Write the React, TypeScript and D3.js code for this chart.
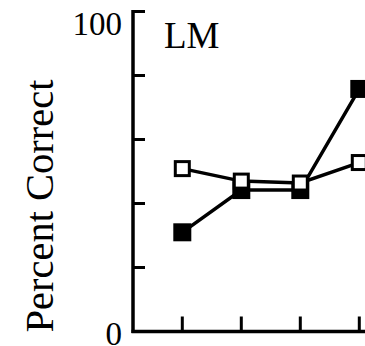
import React from "react";
import * as d3 from "d3";

const categories = ["1", "2", "3", "4"];
const openValues = [50.9, 47.0, 46.4, 52.8];
const filledValues = [31.0, 44.2, 44.2, 75.8];
const yTicks = [0, 20, 40, 60, 80, 100];
const yTickLabels = ["0", "100"];
const panelLabel = "LM";
const yAxisTitle = "Percent Correct";

export default function App() {
  const W = 365;
  const H = 346;
  const axisX = 133;
  const x = d3
    .scalePoint<string>()
    .domain(categories)
    .range([182.3, 359.3]);
  const y = d3.scaleLinear().domain([0, 100]).range([331.5, 11.5]);
  const line = d3
    .line<number>()
    .x((_, i) => x(categories[i]) as number)
    .y((d) => y(d));

  const font = "'Liberation Serif', 'Times New Roman', serif";

  return (
    <svg
      width={W}
      height={H}
      style={{ position: "absolute", left: 0, top: 0, background: "#fff" }}
    >
      {/* y axis */}
      <line x1={axisX} x2={axisX} y1={y(100) - 1.5} y2={y(0) + 1.5} stroke="#000" strokeWidth={3.5} />
      {yTicks.map((t) => (
        <line key={t} x1={axisX} x2={axisX + 12} y1={y(t)} y2={y(t)} stroke="#000" strokeWidth={3} />
      ))}
      {/* x axis */}
      <line x1={axisX - 1.5} x2={W + 5} y1={y(0)} y2={y(0)} stroke="#000" strokeWidth={3.5} />
      {categories.map((c) => (
        <line key={c} x1={x(c)} x2={x(c)} y1={y(0)} y2={y(0) - 15} stroke="#000" strokeWidth={3} />
      ))}
      {/* tick labels */}
      {yTickLabels.map((l) => {
        const v = +l;
        const base = v === 100 ? y(v) + 23.5 : y(v) + 13.5;
        return (
          <text key={l} x={122} y={base} textAnchor="end" fontFamily={font} fontSize={33} fill="#000">
            {l}
          </text>
        );
      })}
      <text
        transform={`translate(53,${206}) rotate(-90)`}
        textAnchor="middle"
        fontFamily={font}
        fontSize={40.5}
        fill="#000"
      >
        {yAxisTitle}
      </text>
      <text x={164} y={48} fontFamily={font} fontSize={37} fill="#000">
        {panelLabel}
      </text>
      {/* filled series */}
      <path d={line(filledValues) || ""} fill="none" stroke="#000" strokeWidth={3.5} />
      {filledValues.map((v, i) => (
        <rect
          key={"f" + i}
          x={(x(categories[i]) as number) - 9}
          y={y(v) - 9}
          width={18}
          height={18}
          fill="#000"
        />
      ))}
      {/* open series */}
      <path d={line(openValues) || ""} fill="none" stroke="#000" strokeWidth={3.5} />
      {openValues.map((v, i) => (
        <rect
          key={"o" + i}
          x={(x(categories[i]) as number) - 7}
          y={y(v) - 7}
          width={14}
          height={14}
          fill="#fff"
          stroke="#000"
          strokeWidth={3}
        />
      ))}
    </svg>
  );
}
